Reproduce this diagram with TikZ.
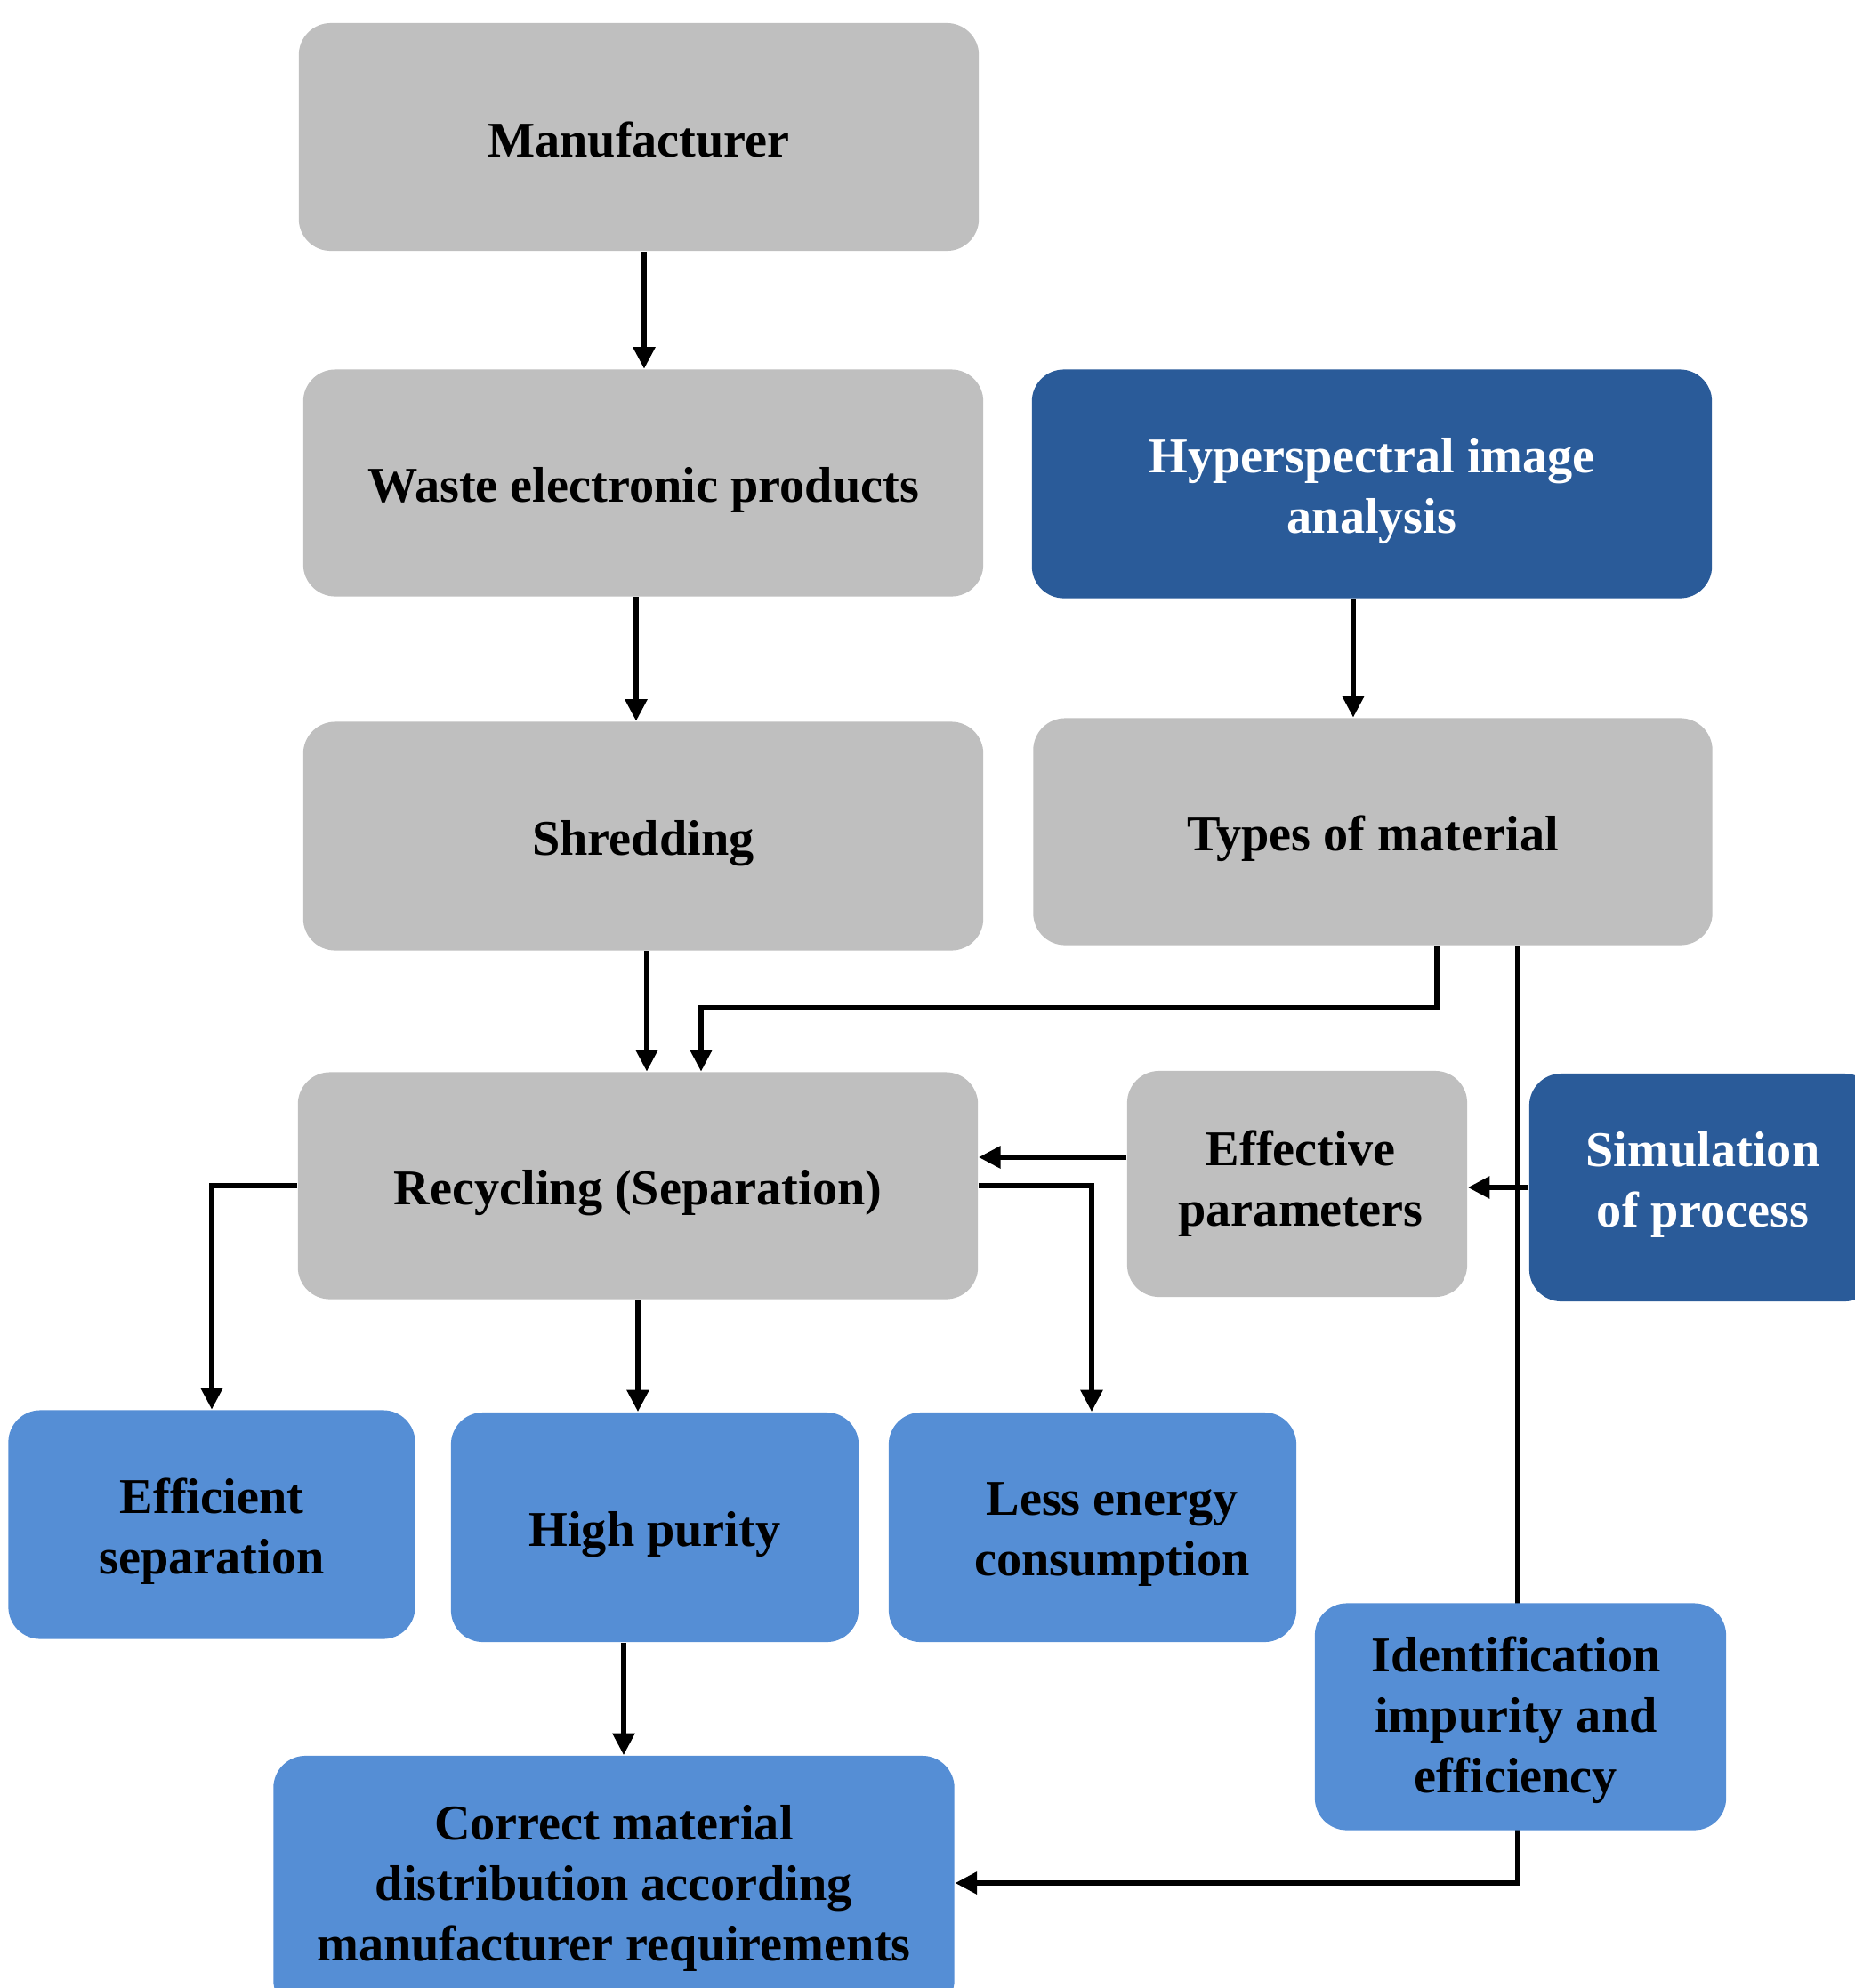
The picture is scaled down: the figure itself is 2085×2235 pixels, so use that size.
\documentclass[tikz,border=0pt]{standalone}
\usepackage{fontspec}
\setmainfont{Liberation Serif}
\usetikzlibrary{arrows.meta,calc}
\definecolor{gfill}{HTML}{BFBFBF}
\definecolor{dblue}{HTML}{2A5B99}
\definecolor{lblue}{HTML}{558ED5}
\pgfdeclarelayer{bg}
\pgfsetlayers{bg,main}
% #1 style, #2 name, #3 x, #4 y, #5 width (cm), #6 height (cm), #7 text offset, #8 text
\newcommand\bx[8]{%
  \node[#1, minimum width=#5cm, minimum height=#6cm] (#2) at (#3,#4) {};
  \node[#1txt] (#2-t) at ($(#3,#4)+(#7)$) {#8};}
\begin{document}
\begin{tikzpicture}[x=0.01cm,y=-0.01cm,
  box/.style={rounded corners=0.36cm, draw=none, inner sep=0pt},
  gbox/.style={box, fill=gfill},
  dbox/.style={box, fill=dblue},
  lbox/.style={box, fill=lblue},
  txt/.style={align=center, inner sep=0pt, font=\bfseries\fontsize{16}{19.3}\selectfont},
  gboxtxt/.style={txt, text=black},
  dboxtxt/.style={txt, text=white},
  lboxtxt/.style={txt, text=black},
  arr/.style={line width=1.7pt, -{Triangle[length=7pt,width=6.8pt]}}]
\path[use as bounding box] (0,0) rectangle (2085,2235);

\bx{gbox}{m}{718}{154}{7.64}{2.56}{0,3}{Manufacturer}
\bx{gbox}{w}{723}{543}{7.64}{2.55}{0,8}{Waste electronic products}
\bx{dbox}{h}{1542}{544}{7.64}{2.57}{0,8}{Hyperspectral image\\analysis}
\bx{gbox}{s}{723}{940}{7.64}{2.57}{0,8}{Shredding}
\bx{gbox}{t}{1543}{935}{7.63}{2.55}{0,8}{Types of material}
\bx{gbox}{r}{717}{1333}{7.64}{2.55}{0,8}{Recycling (Separation)}
\bx{gbox}{e}{1458}{1331}{3.82}{2.54}{4,0}{Effective\\parameters}
\bx{dbox}{sim}{1914}{1335}{3.90}{2.56}{0,-3}{Simulation\\of process}
\bx{lbox}{es}{238}{1714}{4.57}{2.57}{0,8}{Efficient\\separation}
\bx{lbox}{hp}{736}{1717}{4.58}{2.58}{0,8}{High purity}
\bx{lbox}{le}{1228}{1717}{4.58}{2.58}{22,8}{Less energy\\consumption}
\bx{lbox}{id}{1709}{1930}{4.62}{2.55}{-5,4}{Identification\\impurity and\\efficiency}
\bx{lbox}{cm}{690}{2118}{7.65}{2.88}{0,5}{Correct material\\distribution according\\manufacturer requirements}

\coordinate (k1) at (788,1133);
\coordinate (k2) at (1706,2117);

\begin{pgfonlayer}{bg}
\draw[arr] (m.south -| 724,0) -- (w.north -| 724,0);
\draw[arr] (w.south -| 715,0) -- (s.north -| 715,0);
\draw[arr] (h.south -| 1521,0) -- (t.north -| 1521,0);
\draw[arr] (s.south -| 727,0) -- (r.north -| 727,0);
\draw[arr] (t.south -| 1615,0) |- (k1) -- (r.north -| k1);
\draw[arr] (t.south -| k2) -- (k2) -- (cm.east |- k2);
\draw[arr] (sim.west |- 0,1335) -- (e.east |- 0,1335);
\draw[arr] (e.west |- 0,1301) -- (r.east |- 0,1301);
\draw[arr] (r.east) -| (le.north -| 1227,0);
\draw[arr] (r.west) -| (es.north);
\draw[arr] (r.south) -- (r.south |- hp.north);
\draw[arr] (hp.south -| 701,0) -- (cm.north -| 701,0);
\end{pgfonlayer}
\end{tikzpicture}
\end{document}
